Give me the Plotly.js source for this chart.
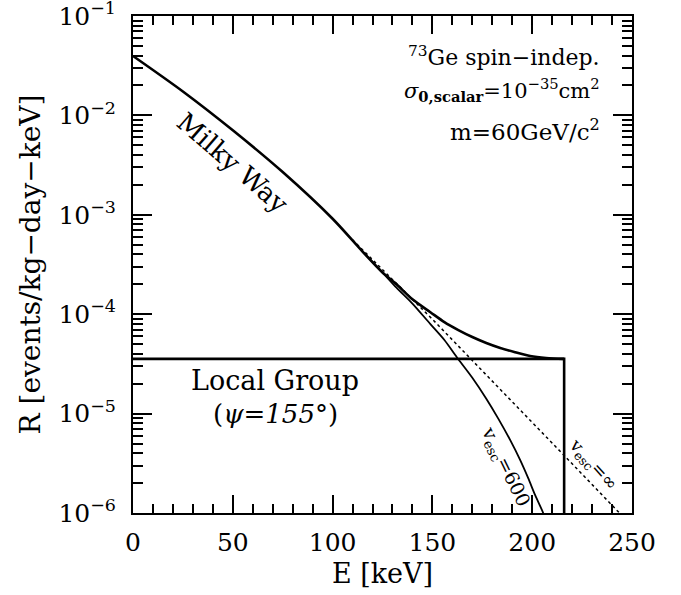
<!DOCTYPE html>
<html>
<head>
<meta charset="utf-8">
<script src="https://cdn.plot.ly/plotly-3.0.1.min.js"></script>
<style>html,body{margin:0;padding:0;background:#fff}#chart{width:681px;height:595px}</style>
</head>
<body>
<div id="chart"></div>
<script>
// Milky Way total (v_esc = 600 plus Local Group) – thick solid
const E_total = [0, 25, 50, 75, 100, 115, 125, 132, 140, 149, 156, 163, 170, 177, 184, 191, 199, 207, 216];
const R_total = [0.0396, 0.0174, 0.00708, 0.00269, 0.000912, 0.000427, 0.000263, 0.000200, 0.000141,
                 0.0001047, 8.32e-5, 6.92e-5, 5.89e-5, 5.13e-5, 4.57e-5, 4.17e-5, 3.80e-5, 3.63e-5, 3.55e-5];
// Milky Way, v_esc = 600 – thin solid
const E_v600 = [115, 125, 132, 140, 149, 156, 163, 170, 177, 183, 189, 194, 198, 201.5, 205.5, 207];
const R_v600 = [0.000427, 0.000263, 0.000185, 0.000128, 7.94e-5, 5.50e-5, 3.52e-5, 2.29e-5, 1.41e-5,
                8.9e-6, 5.4e-6, 3.4e-6, 2.24e-6, 1.51e-6, 1.0e-6, 7.9e-7];
// Milky Way, v_esc = infinity – dotted
const E_vinf = [110, 150, 215, 245];
const R_vinf = [0.000560, 8.9e-5, 3.98e-6, 9.4e-7];
// Local Group stream (psi = 155 deg)
const E_lg = [0, 216, 216];
const R_lg = [3.55e-5, 3.55e-5, 8e-7];

const xTicks = [0, 50, 100, 150, 200, 250];
const yTicks = [1e-6, 1e-5, 1e-4, 1e-3, 1e-2, 1e-1];
const yTickText = ['10<sup>\u22126</sup>', '10<sup>\u22125</sup>', '10<sup>\u22124</sup>',
                   '10<sup>\u22123</sup>', '10<sup>\u22122</sup>', '10<sup>\u22121</sup>'];

// minor tick positions
const xMinor = [];
for (let v = 10; v < 250; v += 10) if (v % 50 !== 0) xMinor.push(v);
const yMinor = [];
for (let d = -6; d < -1; d++) for (let k = 2; k <= 9; k++) yMinor.push(k * Math.pow(10, d));

const FONT = "DejaVu Serif, Liberation Serif, serif";

const traces = [
  {x: E_vinf, y: R_vinf, mode: 'lines', line: {color: '#000', width: 1.5, dash: 'dot'}, hoverinfo: 'skip'},
  {x: E_v600, y: R_v600, mode: 'lines', line: {color: '#000', width: 1.8, shape: 'spline', smoothing: 0.8}, hoverinfo: 'skip'},
  {x: E_total, y: R_total, mode: 'lines', line: {color: '#000', width: 2.6, shape: 'spline', smoothing: 0.8}, hoverinfo: 'skip'},
  {x: E_lg, y: R_lg, mode: 'lines', line: {color: '#000', width: 2.6}, hoverinfo: 'skip'}
];

const layout = {
  width: 681, height: 595,
  margin: {l: 133, r: 49, t: 16, b: 82},
  paper_bgcolor: '#fff', plot_bgcolor: '#fff',
  showlegend: false,
  font: {family: FONT, color: '#000', size: 24},
  xaxis: {
    range: [0, 250], tickvals: xTicks, ticktext: xTicks.map(String),
    ticks: 'inside', ticklen: 18, tickwidth: 2, tickcolor: '#000',
    minor: {tickmode: 'array', tickvals: xMinor, ticks: 'inside', ticklen: 9, tickwidth: 2, tickcolor: '#000', showgrid: false},
    showline: true, linewidth: 2, linecolor: '#000', mirror: 'allticks',
    showgrid: false, zeroline: false,
    tickfont: {family: FONT, size: 25, color: '#000'},
    ticklabelstandoff: 6, ticklabeloverflow: 'allow',
    title: {text: 'E [keV]', font: {family: FONT, size: 27, color: '#000'}, standoff: 8}
  },
  yaxis: {
    type: 'log', range: [-6, -1], tickvals: yTicks, ticktext: yTickText,
    ticks: 'inside', ticklen: 19, tickwidth: 2, tickcolor: '#000',
    minor: {tickmode: 'array', tickvals: yMinor, ticks: 'inside', ticklen: 10, tickwidth: 2, tickcolor: '#000', showgrid: false},
    showline: true, linewidth: 2, linecolor: '#000', mirror: 'allticks',
    showgrid: false, zeroline: false,
    tickfont: {family: FONT, size: 25, color: '#000'},
    ticklabelstandoff: 10, ticklabeloverflow: 'allow',
    title: {text: 'R [events/kg\u2212day\u2212keV]', font: {family: FONT, size: 28, color: '#000'}, standoff: 10}
  },
  annotations: [
    {xref: 'paper', yref: 'paper', x: 0.94, y: 0.919, xanchor: 'right', yanchor: 'middle', showarrow: false,
     text: '<sup>73</sup>Ge spin\u2212indep.', font: {family: FONT, size: 22}},
    {xref: 'paper', yref: 'paper', x: 0.94, y: 0.851, xanchor: 'right', yanchor: 'middle', showarrow: false,
     text: '<i>\u03c3</i><sub><b>0,scalar</b></sub>=10<sup>\u221235</sup>cm<sup>2</sup>', font: {family: FONT, size: 21}},
    {xref: 'paper', yref: 'paper', x: 0.94, y: 0.771, xanchor: 'right', yanchor: 'middle', showarrow: false,
     text: 'm=60GeV/c<sup>2</sup>', font: {family: FONT, size: 23}},
    {xref: 'paper', yref: 'paper', x: 0.285, y: 0.266, xanchor: 'center', yanchor: 'middle', showarrow: false,
     text: 'Local Group', font: {family: FONT, size: 27}},
    {xref: 'paper', yref: 'paper', x: 0.285, y: 0.199, xanchor: 'center', yanchor: 'middle', showarrow: false,
     text: '(<i>\u03c8=155\u00b0</i>)', font: {family: FONT, size: 26}},
    {xref: 'paper', yref: 'paper', x: 0.200, y: 0.704, xanchor: 'center', yanchor: 'middle', showarrow: false,
     textangle: 41, text: 'Milky Way', font: {family: FONT, size: 26}},
    {xref: 'paper', yref: 'paper', x: 0.745, y: 0.093, xanchor: 'center', yanchor: 'middle', showarrow: false,
     textangle: 64, text: 'v<sub>esc</sub>=600', font: {family: FONT, size: 19}},
    {xref: 'paper', yref: 'paper', x: 0.922, y: 0.097, xanchor: 'center', yanchor: 'middle', showarrow: false,
     textangle: 48, text: 'v<sub>esc</sub>=\u221e', font: {family: FONT, size: 18}}
  ]
};

Plotly.newPlot('chart', traces, layout, {staticPlot: true});
</script>
</body>
</html>
